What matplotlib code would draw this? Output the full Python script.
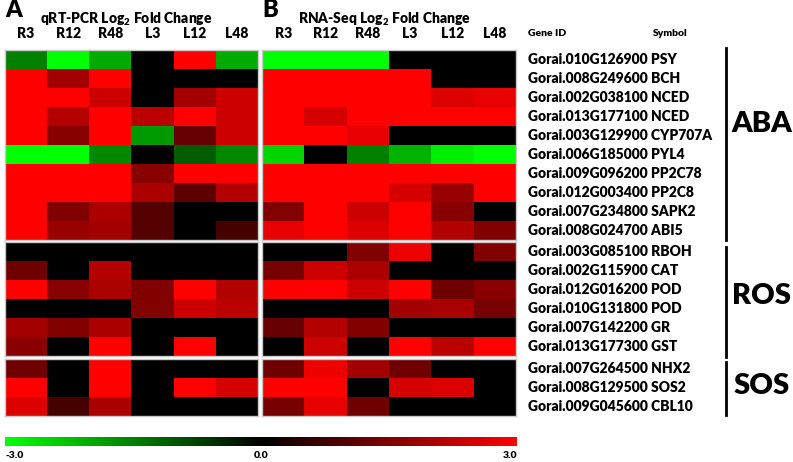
import matplotlib.pyplot as plt
import numpy as np
from matplotlib.colors import LinearSegmentedColormap

plt.rcParams['font.family'] = ['Lato', 'DejaVu Sans']
plt.rcParams['font.weight'] = 'heavy'
plt.rcParams['mathtext.fontset'] = 'custom'
plt.rcParams['mathtext.rm'] = 'Lato:heavy'
plt.rcParams['mathtext.bf'] = 'Lato:heavy'

# ===== Dados =====
amostras = ['R3', 'R12', 'R48', 'L3', 'L12', 'L48']

gene_ids = [
    'Gorai.010G126900', 'Gorai.008G249600', 'Gorai.002G038100', 'Gorai.013G177100',
    'Gorai.003G129900', 'Gorai.006G185000', 'Gorai.009G096200', 'Gorai.012G003400',
    'Gorai.007G234800', 'Gorai.008G024700',
    'Gorai.003G085100', 'Gorai.002G115900', 'Gorai.012G016200', 'Gorai.010G131800',
    'Gorai.007G142200', 'Gorai.013G177300',
    'Gorai.007G264500', 'Gorai.008G129500', 'Gorai.009G045600',
]
simbolos = [
    'PSY', 'BCH', 'NCED', 'NCED', 'CYP707A', 'PYL4', 'PP2C78', 'PP2C8', 'SAPK2', 'ABI5',
    'RBOH', 'CAT', 'POD', 'POD', 'GR', 'GST',
    'NHX2', 'SOS2', 'CBL10',
]
grupos = ['ABA', 'ROS', 'SOS']
tamanho_grupos = [10, 6, 3]

# log2 fold change, qRT-PCR (linhas = genes, colunas = amostras)
qpcr = [
    [-1.5, -3.0, -2.0, 0.0, 3.0, -2.0],
    [3.0, 1.9, 3.0, 0.0, 0.0, 0.0],
    [3.0, 3.0, 2.4, 0.0, 1.9, 2.4],
    [3.0, 2.1, 3.0, 2.2, 3.0, 2.4],
    [3.0, 1.6, 3.0, -1.8, 1.2, 2.4],
    [-3.0, -3.0, -1.6, 0.0, -1.1, -1.6],
    [3.0, 3.0, 3.0, 1.6, 3.0, 3.0],
    [3.0, 3.0, 3.0, 2.0, 1.1, 2.1],
    [3.0, 1.5, 2.0, 1.0, 0.0, 0.0],
    [3.0, 1.8, 1.9, 1.0, 0.0, 0.8],
    [0.0, 0.0, 0.0, 0.0, 0.0, 0.0],
    [1.3, 0.0, 2.1, 0.0, 0.0, 0.0],
    [3.0, 1.6, 2.0, 1.5, 3.0, 2.1],
    [0.0, 0.0, 0.0, 1.5, 2.4, 2.2],
    [1.9, 1.5, 2.0, 0.0, 0.0, 0.0],
    [1.6, 0.0, 3.0, 0.0, 3.0, 0.0],
    [1.3, 0.0, 3.0, 0.0, 0.0, 0.0],
    [3.0, 0.0, 3.0, 0.0, 3.0, 2.5],
    [2.6, 0.8, 2.0, 0.0, 0.0, 0.0],
]

# log2 fold change, RNA-Seq
rnaseq = [
    [-3.0, -3.0, -3.0, 0.0, 0.0, 0.0],
    [3.0, 3.0, 3.0, 3.0, 0.0, 0.0],
    [3.0, 3.0, 3.0, 3.0, 2.6, 2.7],
    [3.0, 2.5, 3.0, 3.0, 3.0, 3.0],
    [3.0, 3.0, 2.7, 0.0, 0.0, 0.0],
    [-2.5, 0.0, -1.5, -2.1, -2.8, -3.0],
    [3.0, 3.0, 3.0, 3.0, 3.0, 3.0],
    [3.0, 3.0, 3.0, 2.5, 1.8, 3.0],
    [1.5, 3.0, 2.4, 3.0, 1.6, 0.0],
    [2.7, 3.0, 2.6, 3.0, 2.1, 1.5],
    [0.0, 0.0, 1.5, 2.8, 0.0, 1.5],
    [1.4, 2.4, 2.0, 0.0, 0.0, 0.0],
    [3.0, 3.0, 2.4, 3.0, 1.3, 1.6],
    [0.0, 0.0, 0.0, 1.9, 2.0, 1.4],
    [1.2, 2.1, 1.5, 0.0, 0.0, 0.0],
    [0.0, 2.4, 0.0, 3.0, 2.2, 3.0],
    [1.3, 2.8, 1.9, 1.3, 0.0, 0.0],
    [3.0, 3.0, 0.0, 2.5, 2.6, 0.0],
    [1.4, 2.7, 1.3, 0.0, 0.0, 0.0],
]

# ===== Figura =====
W, H = 793, 462
fig = plt.figure(figsize=(W / 100, H / 100), dpi=100)
cmap = LinearSegmentedColormap.from_list('verde_preto_vermelho', ['#00ff00', '#000000', '#ff0000'])


def eixo(x0, y0, x1, y1):
    # retangulo em pixels (origem no topo) -> coordenadas da figura
    return fig.add_axes([x0 / W, 1 - y1 / H, (x1 - x0) / W, (y1 - y0) / H])


def px(x, y):
    return x / W, 1 - y / H


paineis = [(5, 258, qpcr, 'A', 'qRT-PCR Log$_2$ Fold Change'),
           (262, 516, rnaseq, 'B', 'RNA-Seq Log$_2$ Fold Change')]
faixas_y = [(50, 240), (242, 356), (359, 416)]

for x0, x1, valores, letra, titulo in paineis:
    valores = np.array(valores)
    inicio = 0
    for (y0, y1), n in zip(faixas_y, tamanho_grupos):
        ax = eixo(x0, y0, x1, y1)
        ax.imshow(valores[inicio:inicio + n], cmap=cmap, vmin=-3, vmax=3,
                  aspect='auto', interpolation='nearest')
        ax.set_xticks([])
        ax.set_yticks([])
        for s in ax.spines.values():
            s.set_color('#c8c8c8')
            s.set_linewidth(1)
        inicio += n
    fig.text(*px(x0, 10), letra, fontsize=17, va='center', ha='left')
    fig.text(*px((x0 + x1) / 2 - 5, 19), titulo, fontsize=10, va='center', ha='center')
    largura = (x1 - x0) / len(amostras)
    for i, a in enumerate(amostras):
        fig.text(*px(x0 + largura * (i + 0.5), 34), a, fontsize=10, va='center', ha='center')

# ===== Rotulos dos genes =====
fig.text(*px(528, 33), 'Gene ID', fontsize=7.5, va='center')
fig.text(*px(653, 33), 'Symbol', fontsize=7.5, va='center')

centros = []
for (y0, y1), n in zip(faixas_y, tamanho_grupos):
    h = (y1 - y0) / n
    centros += [y0 + h * (k + 0.5) for k in range(n)]
for gid, sim, yc in zip(gene_ids, simbolos, centros):
    fig.text(*px(528, yc), f'{gid} {sim}', fontsize=10, va='center')

linhas_grupo = [(48, 240), (247, 357), (362, 415)]
centros_grupo = [124, 296, 386]
for g, (ya, yb), yc in zip(grupos, linhas_grupo, centros_grupo):
    fig.add_artist(plt.Line2D([726 / W, 726 / W], [1 - ya / H, 1 - yb / H],
                              color='black', linewidth=2))
    fig.text(*px(762, yc), g, fontsize=21, va='center', ha='center')

# ===== Barra de cores =====
cax = eixo(5, 437, 517, 446)
barra = fig.colorbar(plt.cm.ScalarMappable(norm=plt.Normalize(-3, 3), cmap=cmap),
                     cax=cax, orientation='horizontal')
barra.outline.set_visible(False)
cax.set_xticks([])
fig.text(*px(5, 455), '-3.0', fontsize=7.5, va='center', ha='left')
fig.text(*px(261, 455), '0.0', fontsize=7.5, va='center', ha='center')
fig.text(*px(517, 455), '3.0', fontsize=7.5, va='center', ha='right')

plt.savefig('out.png', dpi=100)
